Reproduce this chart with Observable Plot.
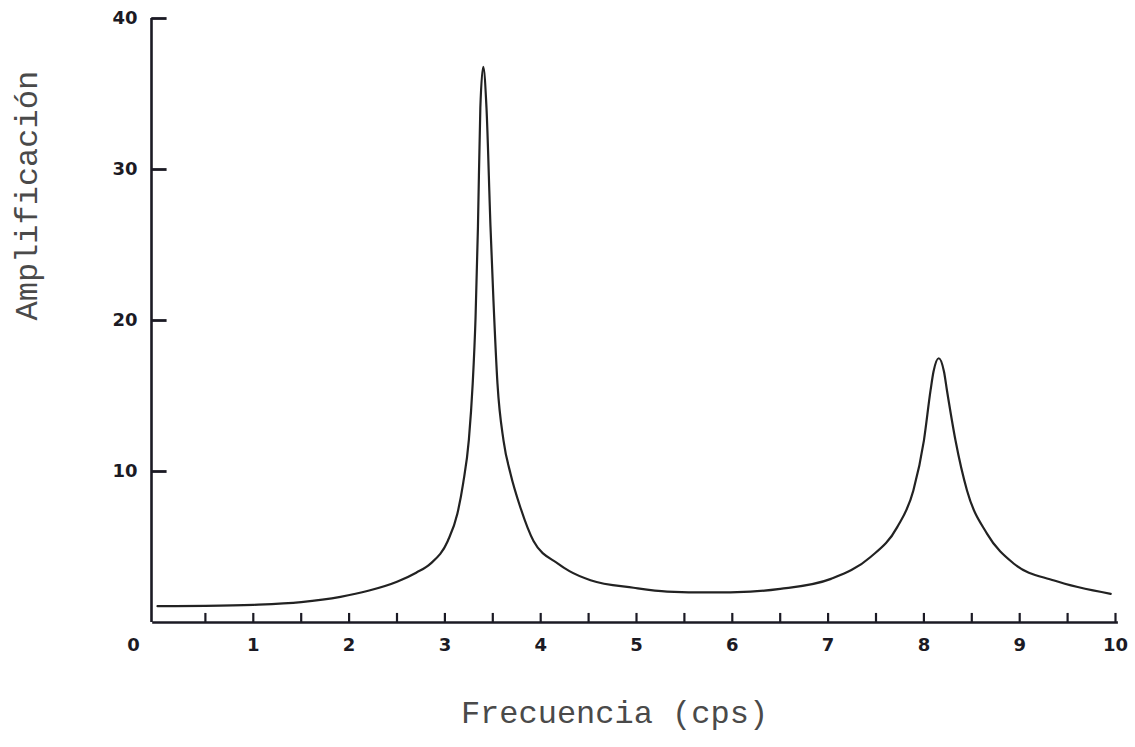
<!DOCTYPE html>
<html>
<head>
<meta charset="utf-8">
<script src="https://cdn.jsdelivr.net/npm/d3@7"></script>
<script src="https://cdn.jsdelivr.net/npm/@observablehq/plot@0.6"></script>
<style>
  html, body { margin: 0; padding: 0; background: #ffffff; }
  #chart svg { display: block; }
</style>
</head>
<body>
<div id="chart"></div>
<script>
// Frequency (cps) and amplification
const freq = [0, 0.5, 1, 1.5, 1.91, 2.2, 2.5, 2.7, 2.85, 3.03, 3.13, 3.19, 3.25, 3.29, 3.32, 3.345, 3.37, 3.40, 3.434, 3.476, 3.507, 3.549, 3.612, 3.685, 3.789, 3.925, 4.18, 4.3, 4.52, 4.97, 5.32, 5.77, 6.19, 6.5, 7.03, 7.44, 7.72, 7.89, 8.0, 8.07, 8.1, 8.155, 8.21, 8.24, 8.33, 8.45, 8.66, 8.94, 9.36, 9.95];
const amp  = [1.08, 1.1, 1.17, 1.35, 1.7, 2.1, 2.7, 3.3, 3.9, 5.4, 7.2, 9.2, 12.1, 15.8, 20.2, 26.2, 34.1, 36.8, 34.1, 26.2, 21.3, 15.8, 12.05, 9.85, 7.6, 5.4, 3.9, 3.4, 2.8, 2.3, 2.05, 1.99, 2.05, 2.23, 2.89, 4.32, 6.3, 8.74, 12.05, 15.4, 16.6, 17.5, 16.6, 15.4, 12.05, 8.74, 5.87, 3.89, 2.78, 1.9];

const xTickLabels = ["0", "1", "2", "3", "4", "5", "6", "7", "8", "9", "10"];
const xTickValues = [0, 1, 2, 3, 4, 5, 6, 7, 8, 9, 10];
const xMinorTicks = [0.5, 1, 1.5, 2, 2.5, 3, 3.5, 4, 4.5, 5, 5.5, 6, 6.5, 7, 7.5, 8, 8.5, 9, 9.5, 10];
const yTickValues = [10, 20, 30, 40];
const yTickLabels = ["10", "20", "30", "40"];

const xTitle = "Frecuencia (cps)";
const yTitle = "Amplificación";

const curve = freq.map((f, i) => ({f, a: amp[i]}));
const xLab = xTickValues.map((v, i) => ({v, t: xTickLabels[i]}));
const yLab = yTickValues.map((v, i) => ({v, t: yTickLabels[i]}));

const ink = "#1b1a24";
const tickFont = "'DejaVu Sans', sans-serif";

const chart = Plot.plot({
  width: 1135,
  height: 747,
  marginLeft: 157,
  marginRight: 20,
  marginTop: 18,
  marginBottom: 125,
  x: {domain: [0, 10], axis: null},
  y: {domain: [0, 40], axis: null},
  style: {background: "#ffffff", overflow: "visible"},
  marks: [
    // axis lines
    Plot.ruleY([0], {x1: -0.05, x2: 10.03, stroke: ink, strokeWidth: 2.6}),
    Plot.ruleX([0], {y1: 0, y2: 40, dx: -6, stroke: ink, strokeWidth: 2.6}),
    // x ticks pointing up
    Plot.ruleX(xMinorTicks, {x: d => d, y1: 0, y2: 0.6, stroke: ink, strokeWidth: 2.2}),
    // y ticks pointing right
    Plot.ruleY(yTickValues, {y: d => d, x1: -0.06, x2: 0.1, stroke: ink, strokeWidth: 2.8}),
    // x tick labels
    Plot.text(xLab.filter(d => d.v !== 0), {x: "v", y: 0, text: "t", dy: 23, fill: ink,
      fontFamily: tickFont, fontWeight: "bold", fontSize: 18}),
    Plot.text(xLab.filter(d => d.v === 0), {x: "v", y: 0, text: "t", dy: 23, dx: -24, fill: ink,
      fontFamily: tickFont, fontWeight: "bold", fontSize: 18}),
    // y tick labels
    Plot.text(yLab, {x: 0, y: "v", text: "t", dx: -20, textAnchor: "end", fill: ink,
      fontFamily: tickFont, fontWeight: "bold", fontSize: 18}),
    // curve
    Plot.line(curve, {x: "f", y: "a", curve: "monotone-x", stroke: "#222", strokeWidth: 2.2}),
    // axis titles
    Plot.text([xTitle], {frameAnchor: "bottom", dy: 100, dx: -22, fill: "#4a4a4a",
      fontFamily: "'Liberation Mono', 'Courier New', monospace", fontSize: 32}),
    Plot.text([yTitle], {frameAnchor: "left", dx: -131, rotate: -90, fill: "#4a4a4a",
      fontFamily: "'Liberation Mono', 'Courier New', monospace", fontSize: 32})
  ]
});

document.getElementById("chart").appendChild(chart);
</script>
</body>
</html>
